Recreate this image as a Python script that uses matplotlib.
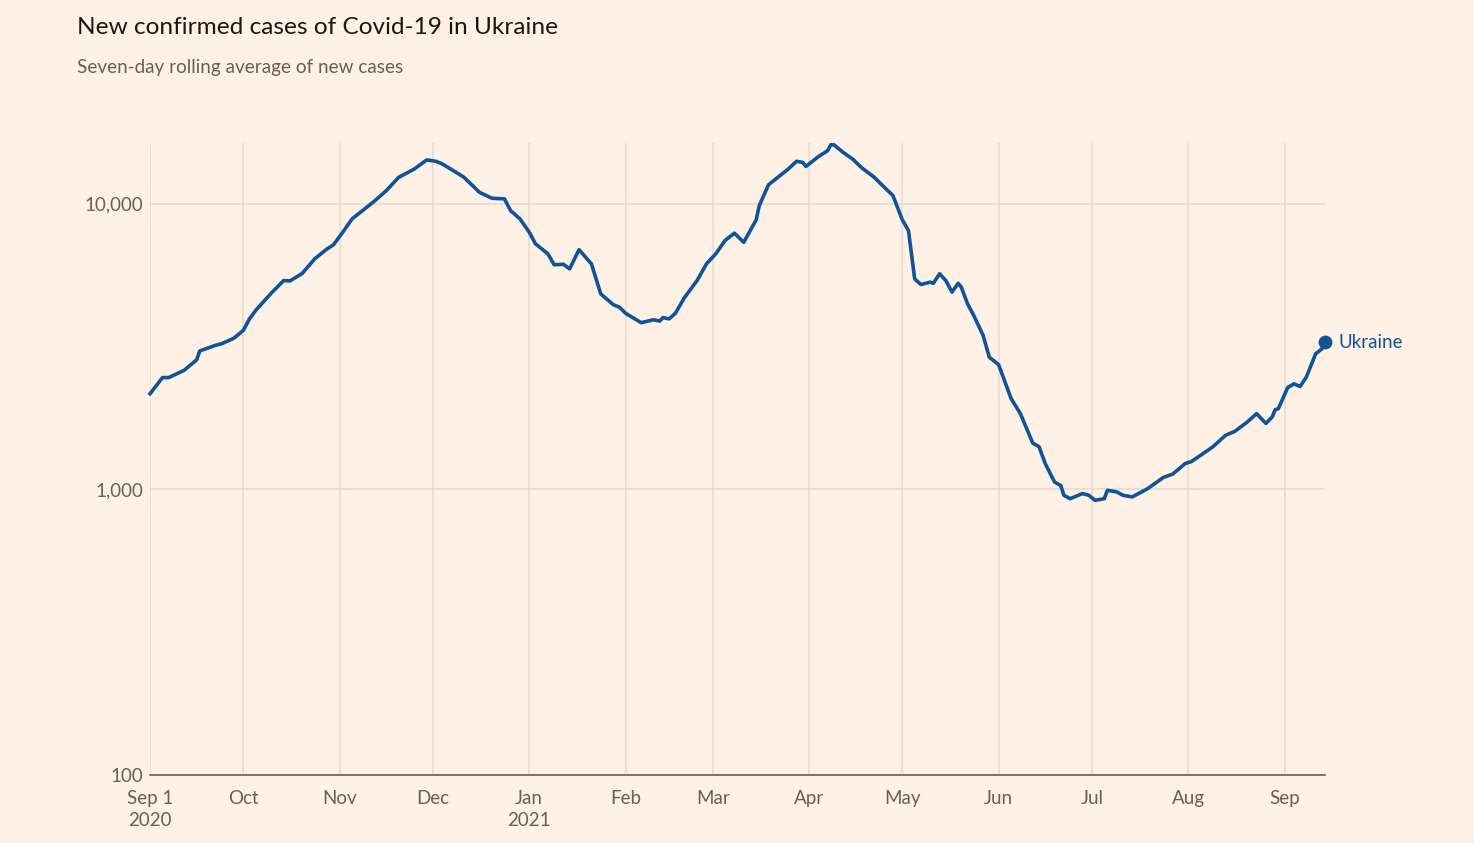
import matplotlib
matplotlib.use("Agg")
import matplotlib.pyplot as plt
from matplotlib.ticker import FixedLocator, FuncFormatter, NullLocator
import pandas as pd

# days after 1 Sep 2020
day_offsets = [0, 4, 6, 11, 15, 16, 21, 23, 27, 30, 32, 34, 39, 43, 45, 49, 53, 57, 59, 62,
               65, 70, 72, 76, 80, 83, 85, 89, 92, 94, 99, 101, 106, 110, 114, 116, 119, 122, 124, 128,
               130, 133, 135, 138, 142, 145, 149, 151, 153, 158, 162, 164, 165, 167, 169, 172, 176, 179, 182, 185,
               188, 191, 194, 195, 196, 199, 202, 205, 208, 210, 211, 215, 218, 219, 220, 223, 226, 229, 233, 236,
               239, 242, 244, 246, 248, 251, 252, 254, 256, 258, 260, 261, 263, 265, 268, 270, 273, 277, 280, 284,
               286, 288, 291, 293, 294, 296, 300, 302, 304, 307, 308, 311, 313, 316, 321, 326, 329, 333, 335, 338,
               342, 346, 349, 353, 356, 359, 361, 362, 363, 366, 368, 370, 372, 375, 377, 378]
# seven-day rolling average of new cases
new_cases = [2160, 2460, 2460, 2610, 2840, 3050, 3190, 3230, 3380, 3600, 3950, 4230, 4860, 5380, 5360, 5700, 6410, 6950, 7170, 7940,
             8840, 9760, 10160, 11100, 12360, 12870, 13210, 14220, 14060, 13770, 12760, 12360, 10950, 10440, 10390, 9450, 8840, 7940, 7230, 6670,
             6110, 6130, 5910, 6900, 6150, 4830, 4430, 4340, 4130, 3830, 3920, 3880, 3990, 3950, 4130, 4700, 5380, 6150, 6670, 7430,
             7880, 7320, 8380, 8770, 9840, 11650, 12360, 13120, 14060, 13940, 13490, 14600, 15320, 16070, 16070, 15100, 14330, 13330, 12360, 11470,
             10670, 8780, 8050, 5450, 5210, 5310, 5260, 5680, 5380, 4900, 5260, 5100, 4460, 4060, 3460, 2900, 2730, 2080, 1840, 1450,
             1410, 1230, 1060, 1030, 953, 927, 966, 953, 915, 927, 992, 979, 953, 940, 1006, 1100, 1130, 1230, 1250, 1315,
             1410, 1545, 1595, 1720, 1840, 1700, 1790, 1900, 1915, 2270, 2340, 2290, 2470, 2980, 3100, 3270]

start = pd.Timestamp("2020-09-01")
dates = start + pd.to_timedelta(day_offsets, unit="D")

month_ticks = pd.date_range("2020-09-01", "2021-09-01", freq="MS")
month_labels = ["Sep 1\n2020", "Oct", "Nov", "Dec", "Jan\n2021", "Feb", "Mar", "Apr",
                "May", "Jun", "Jul", "Aug", "Sep"]
y_ticks = [100, 1000, 10000]

bg = "#fff1e5"
ft_blue = "#0f5499"
grid_col = "#e6d9ce"
text_grey = "#66605c"

plt.rcParams["font.family"] = ["Lato", "DejaVu Sans"]

fig = plt.figure(figsize=(14.74, 8.43), dpi=100, facecolor=bg)
ax = fig.add_axes([0.1018, 0.0807, 0.7971, 0.7497], facecolor=bg)

ax.plot(dates, new_cases, color=ft_blue, linewidth=2.6, solid_joinstyle="round",
        zorder=3, clip_on=False)
ax.scatter([dates[-1]], [new_cases[-1]], s=80, color=ft_blue, zorder=4, clip_on=False)
ax.annotate("Ukraine", (dates[-1], new_cases[-1]), xytext=(10, 0), textcoords="offset points",
            color=ft_blue, fontsize=13.5, va="center", ha="left", annotation_clip=False)

ax.set_yscale("log")
ax.set_ylim(100, 16300)
ax.set_xlim(start, dates[-1])

ax.yaxis.set_major_locator(FixedLocator(y_ticks))
ax.yaxis.set_minor_locator(NullLocator())
ax.yaxis.set_major_formatter(FuncFormatter(lambda v, p: f"{int(v):,}"))
ax.set_xticks(month_ticks)
ax.set_xticklabels(month_labels)
ax.xaxis.set_minor_locator(NullLocator())

ax.grid(True, which="major", color=grid_col, linewidth=1.1, zorder=0)
ax.tick_params(axis="both", length=0, labelsize=13.5, labelcolor=text_grey)
ax.tick_params(axis="y", pad=5)
ax.tick_params(axis="x", pad=11)
for lbl in ax.get_xticklabels():
    lbl.set_linespacing(1.35)

for side in ["top", "right", "left"]:
    ax.spines[side].set_visible(False)
ax.spines["bottom"].set_color(text_grey)
ax.spines["bottom"].set_linewidth(1.2)

fig.text(77 / 1474, 1 - 27 / 843, "New confirmed cases of Covid-19 in Ukraine",
         fontsize=17.6, color="#1a1817", va="center", ha="left")
fig.text(77 / 1474, 1 - 67 / 843, "Seven-day rolling average of new cases",
         fontsize=13.6, color=text_grey, va="center", ha="left")

fig.savefig("out.png", dpi=100, facecolor=bg)
